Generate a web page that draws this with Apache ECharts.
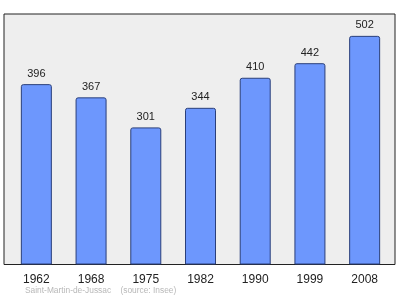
<!DOCTYPE html>
<html>
<head>
<meta charset="utf-8">
<script src="https://cdn.jsdelivr.net/npm/echarts@6/dist/echarts.min.js"></script>
<style>html,body{margin:0;padding:0;background:#fff}#c{width:400px;height:299px}</style>
</head>
<body>
<div id="c"></div>
<script>
const categories = ['1962', '1968', '1975', '1982', '1990', '1999', '2008'];
const population = [396, 367, 301, 344, 410, 442, 502];
const footer = 'Saint-Martin-de-Jussac    (source: Insee)';

const chart = echarts.init(document.getElementById('c'), null, {renderer: 'canvas'});
chart.setOption({
  animation: false,
  backgroundColor: '#ffffff',
  title: {
    text: footer,
    left: 25, top: 287, padding: 0,
    textStyle: {fontFamily: 'Liberation Sans, Arial', fontSize: 8.4, fontWeight: 'normal', color: '#b8b8b8'}
  },
  grid: [
    {left: 4, right: 5, top: 14, bottom: 34.5, show: true, backgroundColor: '#eeeeee', borderColor: '#222222', borderWidth: 1},
    {left: 9, right: 8, top: 14, bottom: 34.5}
  ],
  xAxis: [
    {gridIndex: 0, type: 'value', show: false, min: 0, max: 1},
    {gridIndex: 1, type: 'category', data: categories,
     axisLine: {show: false}, axisTick: {show: false},
     axisLabel: {margin: 9, fontFamily: 'Liberation Sans, Arial', fontSize: 12, color: '#222222'}}
  ],
  yAxis: [
    {gridIndex: 0, type: 'value', show: false, min: 0, max: 1},
    {gridIndex: 1, type: 'value', min: 0, max: 550, show: false, splitLine: {show: false}}
  ],
  series: [{
    type: 'bar',
    xAxisIndex: 1, yAxisIndex: 1,
    data: population,
    barWidth: 31,
    itemStyle: {color: '#6d97fd', borderColor: '#2a3f7a', borderWidth: 1, borderRadius: [2, 2, 0, 0]},
    label: {show: true, position: 'top', distance: 5, fontFamily: 'Liberation Sans, Arial', fontSize: 11, color: '#222222'}
  }]
});
</script>
</body>
</html>
